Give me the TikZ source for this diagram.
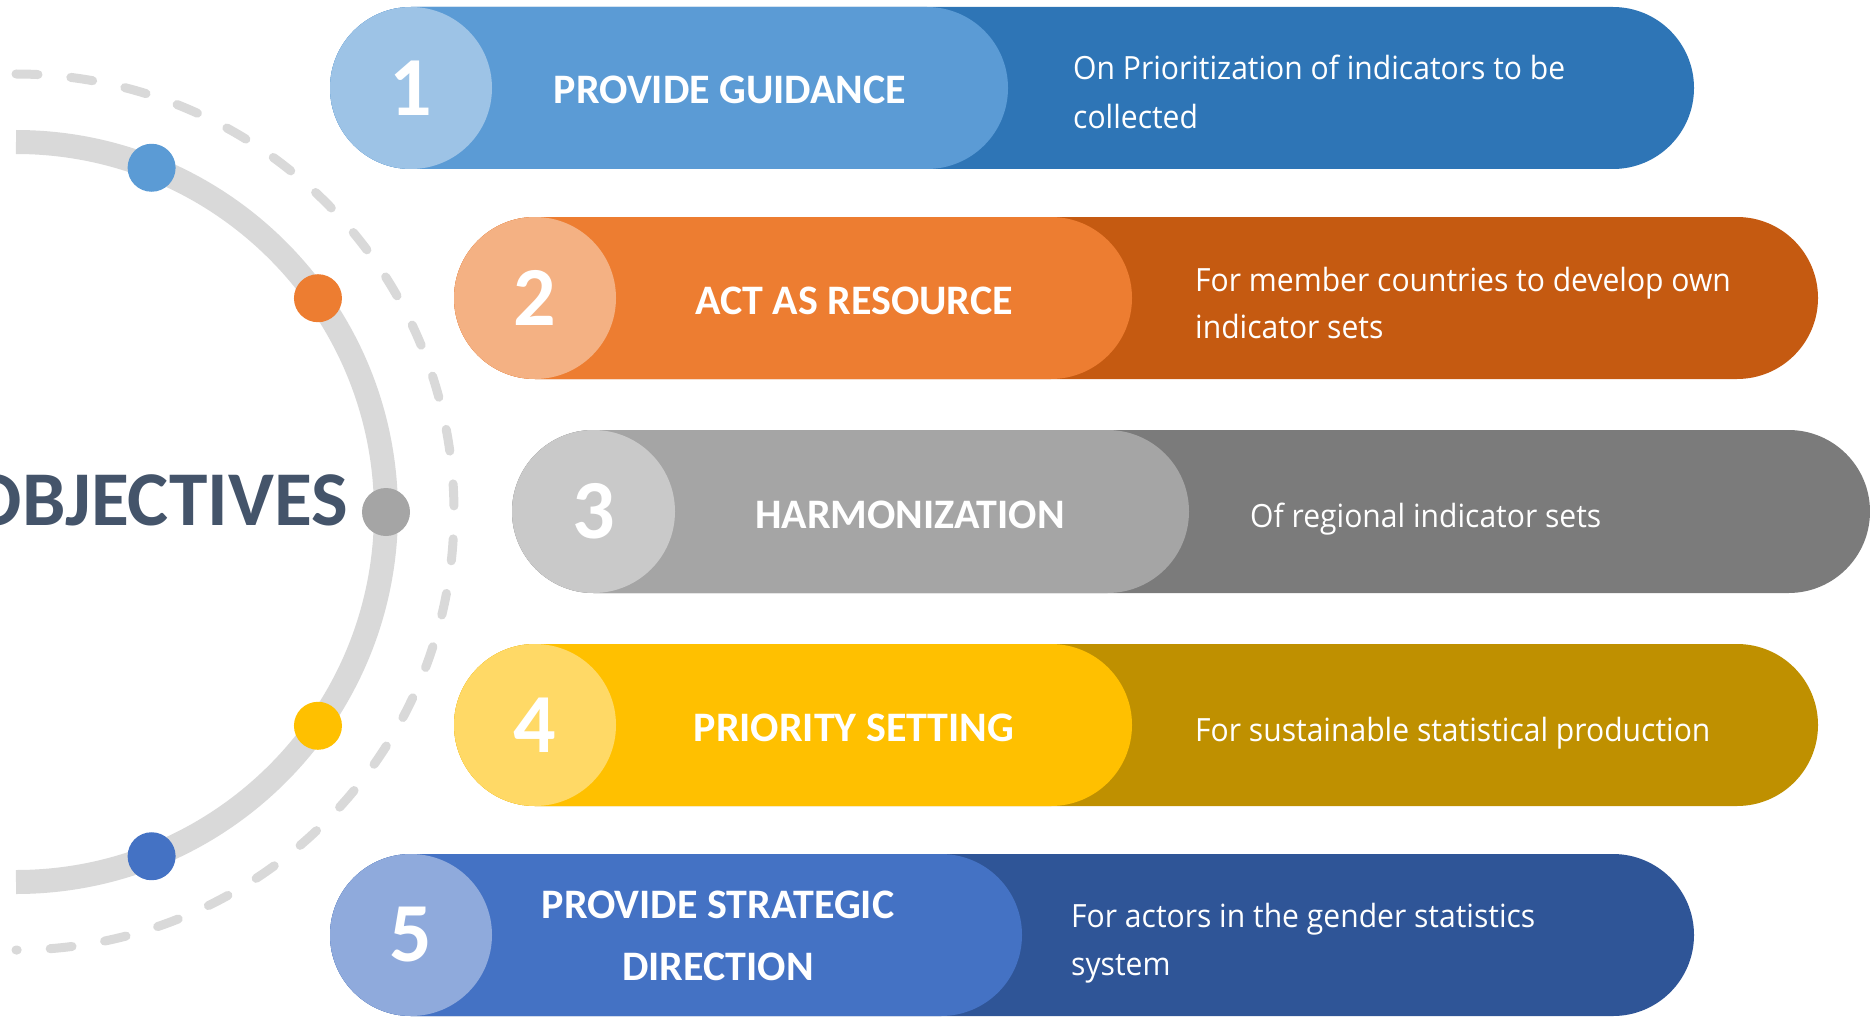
\documentclass[tikz,border=0pt]{standalone}
\usepackage{fontspec}
\usetikzlibrary{calc}
\newfontfamily\headfont{Carlito}
\newfontfamily\descfont[FakeStretch=0.94]{Open Sans}
\definecolor{lA}{HTML}{9DC3E6}\definecolor{mA}{HTML}{5B9BD5}\definecolor{dA}{HTML}{2E75B6}
\definecolor{lB}{HTML}{F4B183}\definecolor{mB}{HTML}{ED7D31}\definecolor{dB}{HTML}{C55A11}
\definecolor{lC}{HTML}{C9C9C9}\definecolor{mC}{HTML}{A5A5A5}\definecolor{dC}{HTML}{7B7B7B}
\definecolor{lD}{HTML}{FFD966}\definecolor{mD}{HTML}{FFC000}\definecolor{dD}{HTML}{BF9000}
\definecolor{lE}{HTML}{8FAADC}\definecolor{mE}{HTML}{4472C4}\definecolor{dE}{HTML}{2F5597}
\definecolor{arcgray}{HTML}{D9D9D9}
\definecolor{slate}{HTML}{44546A}
\begin{document}
\begin{tikzpicture}[x=1pt,y=-1pt,
  numcirc/.style={circle, minimum size=162pt, inner sep=0pt, text=white,
    font=\headfont\bfseries\fontsize{84}{84}\selectfont},
  head/.style={text=white, inner sep=0pt, anchor=base,
    font=\headfont\bfseries\fontsize{42}{50}\selectfont},
  desc/.style={text=white, inner sep=0pt, anchor=base west,
    font=\descfont\fontsize{32}{40}\selectfont},
  dotmark/.style={circle, minimum size=48pt, inner sep=0pt},
  pillshape/.style={rounded corners=81pt}]
\useasboundingbox (0,0) rectangle (1870,1019);
\clip (0,0) rectangle (1870,1019);

% left decoration
\draw[arcgray, line width=9pt, line cap=round, dash pattern=on 22pt off 33pt]
  (16,74) arc[start angle=-90, end angle=90, radius=438];
\draw[arcgray, line width=24pt] (16,142) arc[start angle=-90, end angle=90, radius=370];
\node[dotmark, fill=mA] (p1) at ($(16,512)+(-68.5:370)$) {};
\node[dotmark, fill=mB] (p2) at ($(16,512)+(-35.3:370)$) {};
\node[dotmark, fill=mC] (p3) at ($(16,512)+(0:370)$) {};
\node[dotmark, fill=mD] (p4) at ($(16,512)+(35.3:370)$) {};
\node[dotmark, fill=mE] (p5) at ($(16,512)+(68.5:370)$) {};
\node[anchor=base east, inner sep=0pt, text=slate,
  font=\headfont\bfseries\fontsize{77.5}{80}\selectfont] (obj) at (348,525) {OBJECTIVES};

% pill 1
\fill[dA, pillshape] (330,7) rectangle (1694,169);
\fill[mA, pillshape] (330,7) rectangle (1008,169);
\node[numcirc, fill=lA] (n1) at (411,88) {1};
\node[head] (h1) at (730,104) {PROVIDE GUIDANCE};
\node[desc] (d1a) at (1073,80) {On Prioritization of indicators to be};
\node[desc] (d1b) at (1073,128.5) {collected};

% pill 2
\fill[dB, pillshape] (454,217) rectangle (1818,379);
\fill[mB, pillshape] (454,217) rectangle (1132,379);
\node[numcirc, fill=lB] (n2) at (535,298) {2};
\node[head] (h2) at (854,314.5) {ACT AS RESOURCE};
\node[desc] (d2a) at (1195,291) {For member countries to develop own};
\node[desc] (d2b) at (1195,338) {indicator sets};

% pill 3
\fill[dC, rounded corners=81.5pt] (512,430) rectangle (1870,593);
\fill[mC, rounded corners=81.5pt] (512,430) rectangle (1189,593);
\node[numcirc, fill=lC, minimum size=163pt] (n3) at (593.5,511.5) {3};
\node[head] (h3) at (910,528.5) {HARMONIZATION};
\node[desc] (d3) at (1250,527.5) {Of regional indicator sets};

% pill 4
\fill[dD, pillshape] (454,644) rectangle (1818,806);
\fill[mD, pillshape] (454,644) rectangle (1132,806);
\node[numcirc, fill=lD] (n4) at (535,725) {4};
\node[head] (h4) at (854,741.5) {PRIORITY SETTING};
\node[desc] (d4) at (1195,741.5) {For sustainable statistical production};

% pill 5
\fill[dE, pillshape] (330,854) rectangle (1694,1016);
\fill[mE, pillshape] (330,854) rectangle (1022,1016);
\node[numcirc, fill=lE] (n5) at (411,935) {5};
\node[head] (h5a) at (718,918.5) {PROVIDE STRATEGIC};
\node[head] (h5b) at (718,980.5) {DIRECTION};
\node[desc] (d5a) at (1071,927) {For actors in the gender statistics};
\node[desc] (d5b) at (1071,975) {system};
\end{tikzpicture}
\end{document}
